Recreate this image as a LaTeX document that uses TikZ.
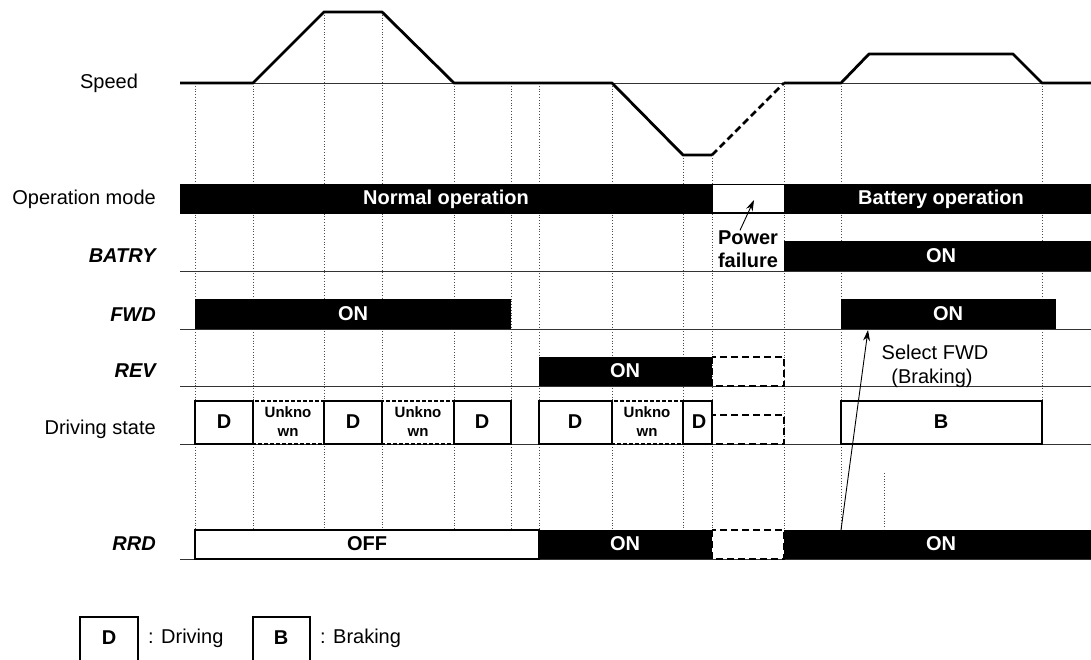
\documentclass[tikz,border=0pt]{standalone}
\usepackage{fontspec}
\setmainfont{Liberation Sans}
\usetikzlibrary{arrows.meta}

\begin{document}
\begin{tikzpicture}
  [x=1pt,y=-1pt,
   every node/.style={font=\fontsize{20}{23}\selectfont,inner sep=0pt},
   sig/.style={font=\fontsize{20}{23}\selectfont\bfseries\itshape,anchor=east},
   lbl/.style={anchor=east},
   inv/.style={text=white,font=\fontsize{20}{23}\selectfont\bfseries},
   dtext/.style={font=\fontsize{20}{23}\selectfont\bfseries,align=center},
   unktext/.style={font=\fontsize{15}{19}\selectfont\bfseries,align=center},
   vline/.style={dotted,line width=0.8pt,black!70},
   rowline/.style={line width=0.9pt,black!80},
   prof/.style={line width=2.8pt,line join=round},
   stbox/.style={draw=black,line width=1.6pt,fill=white},
   unkbox/.style={draw=black,line width=1.2pt,dash pattern=on 4pt off 2pt},
   lost/.style={draw=black,line width=2.4pt,dash pattern=on 7pt off 4pt},
   arr/.style={line width=0.9pt,-{Stealth[length=11pt,width=7pt]}}]

  \useasboundingbox (0,0) rectangle (1091,660);

  \foreach \x in {195,253,454,511,539,612,784,841}
    \draw[vline] (\x,83) -- (\x,530);
  \foreach \x in {324,382}
    \draw[vline] (\x,12) -- (\x,530);
  \foreach \x in {683,712}
    \draw[vline] (\x,155) -- (\x,530);
  \draw[vline] (1042,83) -- (1042,444);
  \draw[vline] (884,473) -- (884,529);

  \foreach \y in {83,271,329,386,444,559}
    \draw[rowline] (180,\y) -- (1091,\y);

  % speed
  \draw[prof] (180,83) -- (253,83) -- (324,12) -- (382,12) -- (454,83)
    -- (612,83) -- (683,155) -- (712,155);
  \draw[prof,dash pattern=on 7pt off 4pt] (712,155) -- (784,83);
  \draw[prof] (784,83) -- (841,83) -- (869,54) -- (1013,54) -- (1042,83)
    -- (1091,83);

  % operation mode
  \fill (180,184) rectangle (1091,214);
  \draw[fill=white,line width=1pt] (712,185) rectangle (784,213);
  \node[inv] (normal) at (446,199) {Normal operation};
  \node[inv] (battery) at (941,199) {Battery operation};
  \coordinate (pfbox) at (754,200);
  \node[dtext] (pf) at (748,249) {Power\\failure};
  \draw[arr] ([xshift=-8pt]pf.north) -- (pfbox);

  % BATRY
  \fill (784,241) rectangle (1091,271);
  \node[inv] (batryon) at (941,256) {ON};

  % FWD
  \fill (195,299) rectangle (511,329);
  \node[inv] (fwdon1) at (353,314) {ON};
  \fill (841,299) rectangle (1056,329);
  \node[inv] (fwdon2) at (948,314) {ON};

  % REV
  \fill (539,357) rectangle (712,386);
  \node[inv] (revon) at (625,371) {ON};
  \draw[lost] (712,357) rectangle (784,386);

  % driving state
  \draw[unkbox] (253,401) rectangle (324,444);
  \draw[unkbox] (382,401) rectangle (454,444);
  \draw[unkbox] (612,401) rectangle (683,444);
  \draw[stbox] (195,401) rectangle (253,444);
  \draw[stbox] (324,401) rectangle (382,444);
  \draw[stbox] (454,401) rectangle (511,444);
  \draw[stbox] (539,401) rectangle (612,444);
  \draw[stbox] (683,401) rectangle (712,444);
  \draw[lost] (712,415) rectangle (784,444);
  \draw[stbox] (841,401) rectangle (1042,444);
  \node[dtext] (d1) at (224,422) {D};
  \node[unktext] (u1) at (288,422) {Unkno\\wn};
  \node[dtext] (d2) at (353,422) {D};
  \node[unktext] (u2) at (418,422) {Unkno\\wn};
  \node[dtext] (d3) at (482,422) {D};
  \node[dtext] (d4) at (575,422) {D};
  \node[unktext] (u3) at (647,422) {Unkno\\wn};
  \node[dtext] (d5) at (699,422) {D};
  \node[dtext] (b1) at (941,422) {B};

  % RRD
  \draw[stbox] (195,530) rectangle (539,559);
  \fill (539,530) rectangle (1091,559);
  \fill[white] (712,530) rectangle (784,559);
  \draw[lost] (712,530) rectangle (784,559);
  \node[dtext] (off) at (367,544) {OFF};
  \node[inv] (rrdon1) at (625,544) {ON};
  \node[inv] (rrdon2) at (941,544) {ON};

  \coordinate (rrdtop) at (841,530);
  \coordinate (fwdbot) at (868,330);
  \draw[arr] (rrdtop) -- (fwdbot);
  \node (sel) at (935,352) {Select FWD};
  \node (brk) at (932,378) {(Braking)};

  % labels
  \node (speed) at (109,83) {Speed};
  \node[lbl] (opmode) at (156,199) {Operation mode};
  \node[sig] (batry) at (156,256) {BATRY};
  \node[sig] (fwd) at (156,315) {FWD};
  \node[sig] (rev) at (156,371) {REV};
  \node[lbl] (drv) at (156,429) {Driving state};
  \node[sig] (rrd) at (156,544) {RRD};

  % legend
  \draw[stbox,line width=1.2pt] (80,617) rectangle (138,662);
  \node[dtext] (legd) at (109,638) {D};
  \node[anchor=west] (legdtxt) at (148,638) {: Driving};
  \draw[stbox,line width=1.2pt] (253,617) rectangle (310,662);
  \node[dtext] (legb) at (281,638) {B};
  \node[anchor=west] (legbtxt) at (320,638) {: Braking};
\end{tikzpicture}
\end{document}
